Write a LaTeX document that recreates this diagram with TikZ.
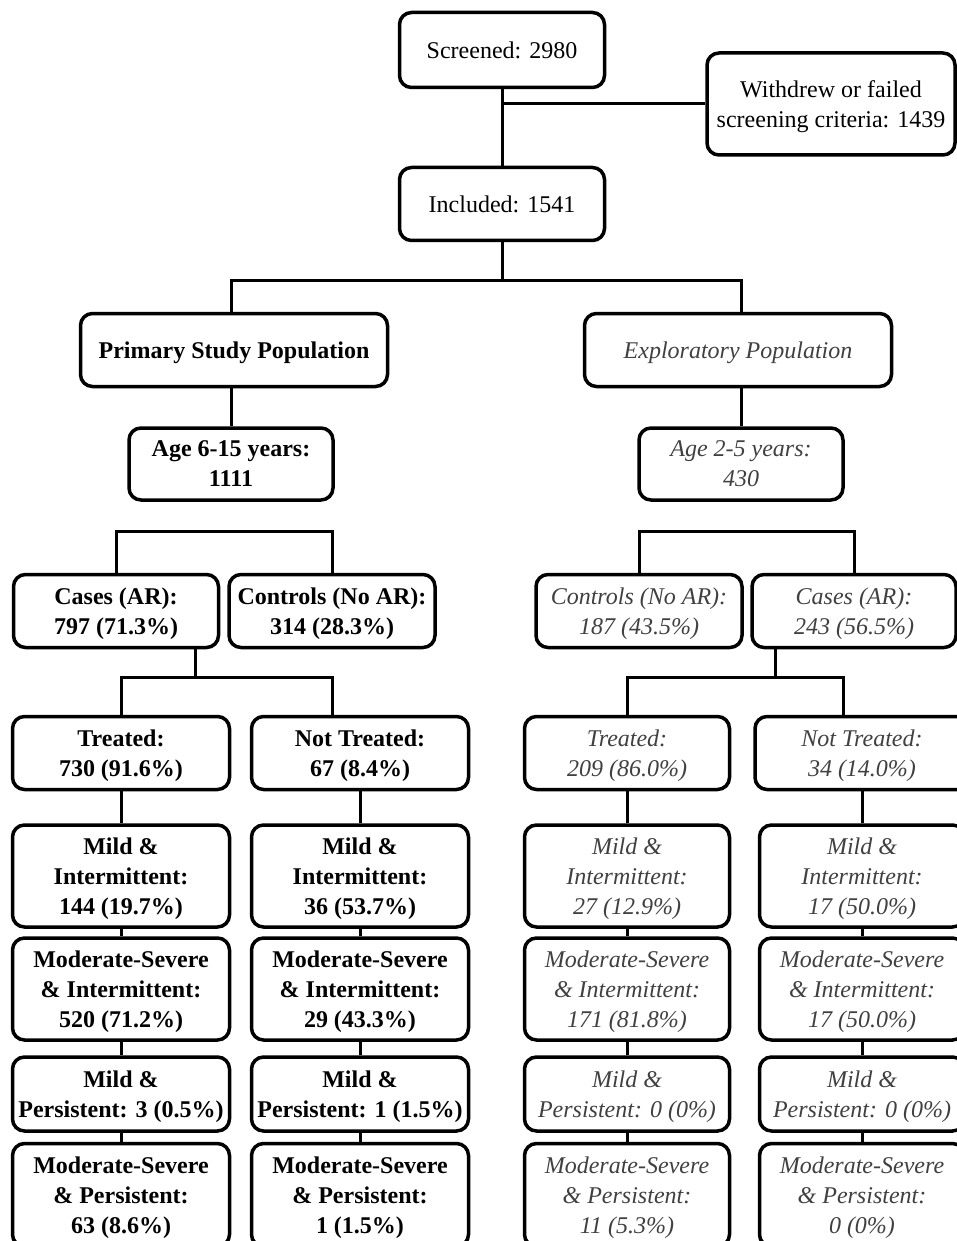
\documentclass[tikz,border=0pt]{standalone}
\usepackage{fontspec}
\setmainfont{Liberation Serif}
\usepackage{tikz}
\usetikzlibrary{positioning,calc}
\definecolor{grisTxt}{RGB}{64,64,64}
\tikzstyle{box}  =[draw, rounded corners=12pt, line width=3.5pt,
                   align=center, inner sep=2pt, text depth=-2pt,
                   font=\fontsize{24}{30}\selectfont]
\tikzstyle{pbox} =[box, font=\fontsize{24}{30}\selectfont\bfseries]
\tikzstyle{ebox} =[box, text=grisTxt,
                   font=\fontsize{24}{30}\selectfont\itshape]
\tikzstyle{edge} =[line width=3pt]
\begin{document}
\begin{tikzpicture}[x=1pt,y=-1pt]
    \useasboundingbox (0,0) rectangle (957,1241);
    \clip (0,0) rectangle (957,1241);

    % screening
    \draw (502,50) node (scr) [box,minimum width=205,minimum height=75] {Screened: 2980};
    \draw (831,104) node (wdr) [box,minimum width=248,minimum height=102] {Withdrew or failed\\screening criteria: 1439};
    \draw (502,204) node (inc) [box,minimum width=205,minimum height=73] {Included: 1541};

    % populations
    \draw (234,350) node (prim) [pbox,minimum width=307,minimum height=73] {Primary Study Population};
    \draw (738,350) node (expl) [ebox,minimum width=307,minimum height=73] {Exploratory Population};
    \draw (231,464) node (ageP) [pbox,minimum width=204,minimum height=72] {Age 6-15 years:\\1111};
    \draw (741,464) node (ageE) [ebox,minimum width=204,minimum height=72] {Age 2-5 years:\\430};

    % cases and controls
    \draw (116,611) node (casP) [pbox,minimum width=205,minimum height=73] {Cases (AR):\\797 (71.3\%)};
    \draw (332,611) node (conP) [pbox,minimum width=206,minimum height=73] {Controls (No AR):\\314 (28.3\%)};
    \draw (639,611) node (conE) [ebox,minimum width=206,minimum height=73] {Controls (No AR):\\187 (43.5\%)};
    \draw (854,611) node (casE) [ebox,minimum width=204,minimum height=73] {Cases (AR):\\243 (56.5\%)};

    % treatment
    \draw (121,753) node (t1) [pbox,minimum width=217,minimum height=73] {Treated:\\730 (91.6\%)};
    \draw (360,753) node (t2) [pbox,minimum width=217,minimum height=73] {Not Treated:\\67 (8.4\%)};
    \draw (627,753) node (t3) [ebox,minimum width=205,minimum height=73] {Treated:\\209 (86.0\%)};
    \draw (862,753) node (t4) [ebox,minimum width=214,minimum height=73] {Not Treated:\\34 (14.0\%)};

    % severity, primary
    \draw (121,876) node (mi1) [pbox,minimum width=217,minimum height=102] {Mild \&\\Intermittent:\\144 (19.7\%)};
    \draw (121,989) node (ms1) [pbox,minimum width=217,minimum height=102] {Moderate-Severe\\\& Intermittent:\\520 (71.2\%)};
    \draw (121,1094) node (mp1) [pbox,minimum width=217,minimum height=74] {Mild \&\\Persistent: 3 (0.5\%)};
    \draw (121,1195) node (sp1) [pbox,minimum width=217,minimum height=103] {Moderate-Severe\\\& Persistent:\\63 (8.6\%)};

    \draw (360,876) node (mi2) [pbox,minimum width=217,minimum height=102] {Mild \&\\Intermittent:\\36 (53.7\%)};
    \draw (360,989) node (ms2) [pbox,minimum width=217,minimum height=102] {Moderate-Severe\\\& Intermittent:\\29 (43.3\%)};
    \draw (360,1094) node (mp2) [pbox,minimum width=217,minimum height=74] {Mild \&\\Persistent: 1 (1.5\%)};
    \draw (360,1195) node (sp2) [pbox,minimum width=217,minimum height=103] {Moderate-Severe\\\& Persistent:\\1 (1.5\%)};

    % severity, exploratory
    \draw (627,876) node (mi3) [ebox,minimum width=205,minimum height=102] {Mild \&\\Intermittent:\\27 (12.9\%)};
    \draw (627,989) node (ms3) [ebox,minimum width=205,minimum height=102] {Moderate-Severe\\\& Intermittent:\\171 (81.8\%)};
    \draw (627,1094) node (mp3) [ebox,minimum width=205,minimum height=74] {Mild \&\\Persistent: 0 (0\%)};
    \draw (627,1195) node (sp3) [ebox,minimum width=205,minimum height=103] {Moderate-Severe\\\& Persistent:\\11 (5.3\%)};

    \draw (862,876) node (mi4) [ebox,minimum width=205,minimum height=102] {Mild \&\\Intermittent:\\17 (50.0\%)};
    \draw (862,989) node (ms4) [ebox,minimum width=205,minimum height=102] {Moderate-Severe\\\& Intermittent:\\17 (50.0\%)};
    \draw (862,1094) node (mp4) [ebox,minimum width=205,minimum height=74] {Mild \&\\Persistent: 0 (0\%)};
    \draw (862,1195) node (sp4) [ebox,minimum width=205,minimum height=103] {Moderate-Severe\\\& Persistent:\\0 (0\%)};

    % branch points
    \coordinate (b1) at (502,280);
    \coordinate (b2) at (222,531);
    \coordinate (b3) at (746,531);
    \coordinate (b4) at (195,677);
    \coordinate (b5) at (775,677);

    \draw [edge] (scr) -- (inc);
    \draw [edge] (wdr) -- (wdr -| scr);
    \draw [edge] (inc) -- (b1);
    \draw [edge] (prim.north -| ageP) |- (b1) -| (expl.north -| ageE);
    \draw [edge] (prim.south -| ageP) -- (ageP);
    \draw [edge] (expl.south -| ageE) -- (ageE);
    \draw [edge] (casP) |- (b2) -| (conP);
    \draw [edge] (conE) |- (b3) -| (casE);
    \draw [edge] (casP.south -| b4) -- (b4);
    \draw [edge] (t1) |- (b4) -| ($(t2.north)+(-28,0)$);
    \draw [edge] (casE.south -| b5) -- (b5);
    \draw [edge] (t3) |- (b5) -| ($(t4.north)+(-19,0)$);

    \foreach \k in {1,2,3,4}
        \foreach \i/\j in {t/mi,mi/ms,ms/mp,mp/sp}
            \draw [edge] (\i\k) -- (\j\k);
\end{tikzpicture}
\end{document}
